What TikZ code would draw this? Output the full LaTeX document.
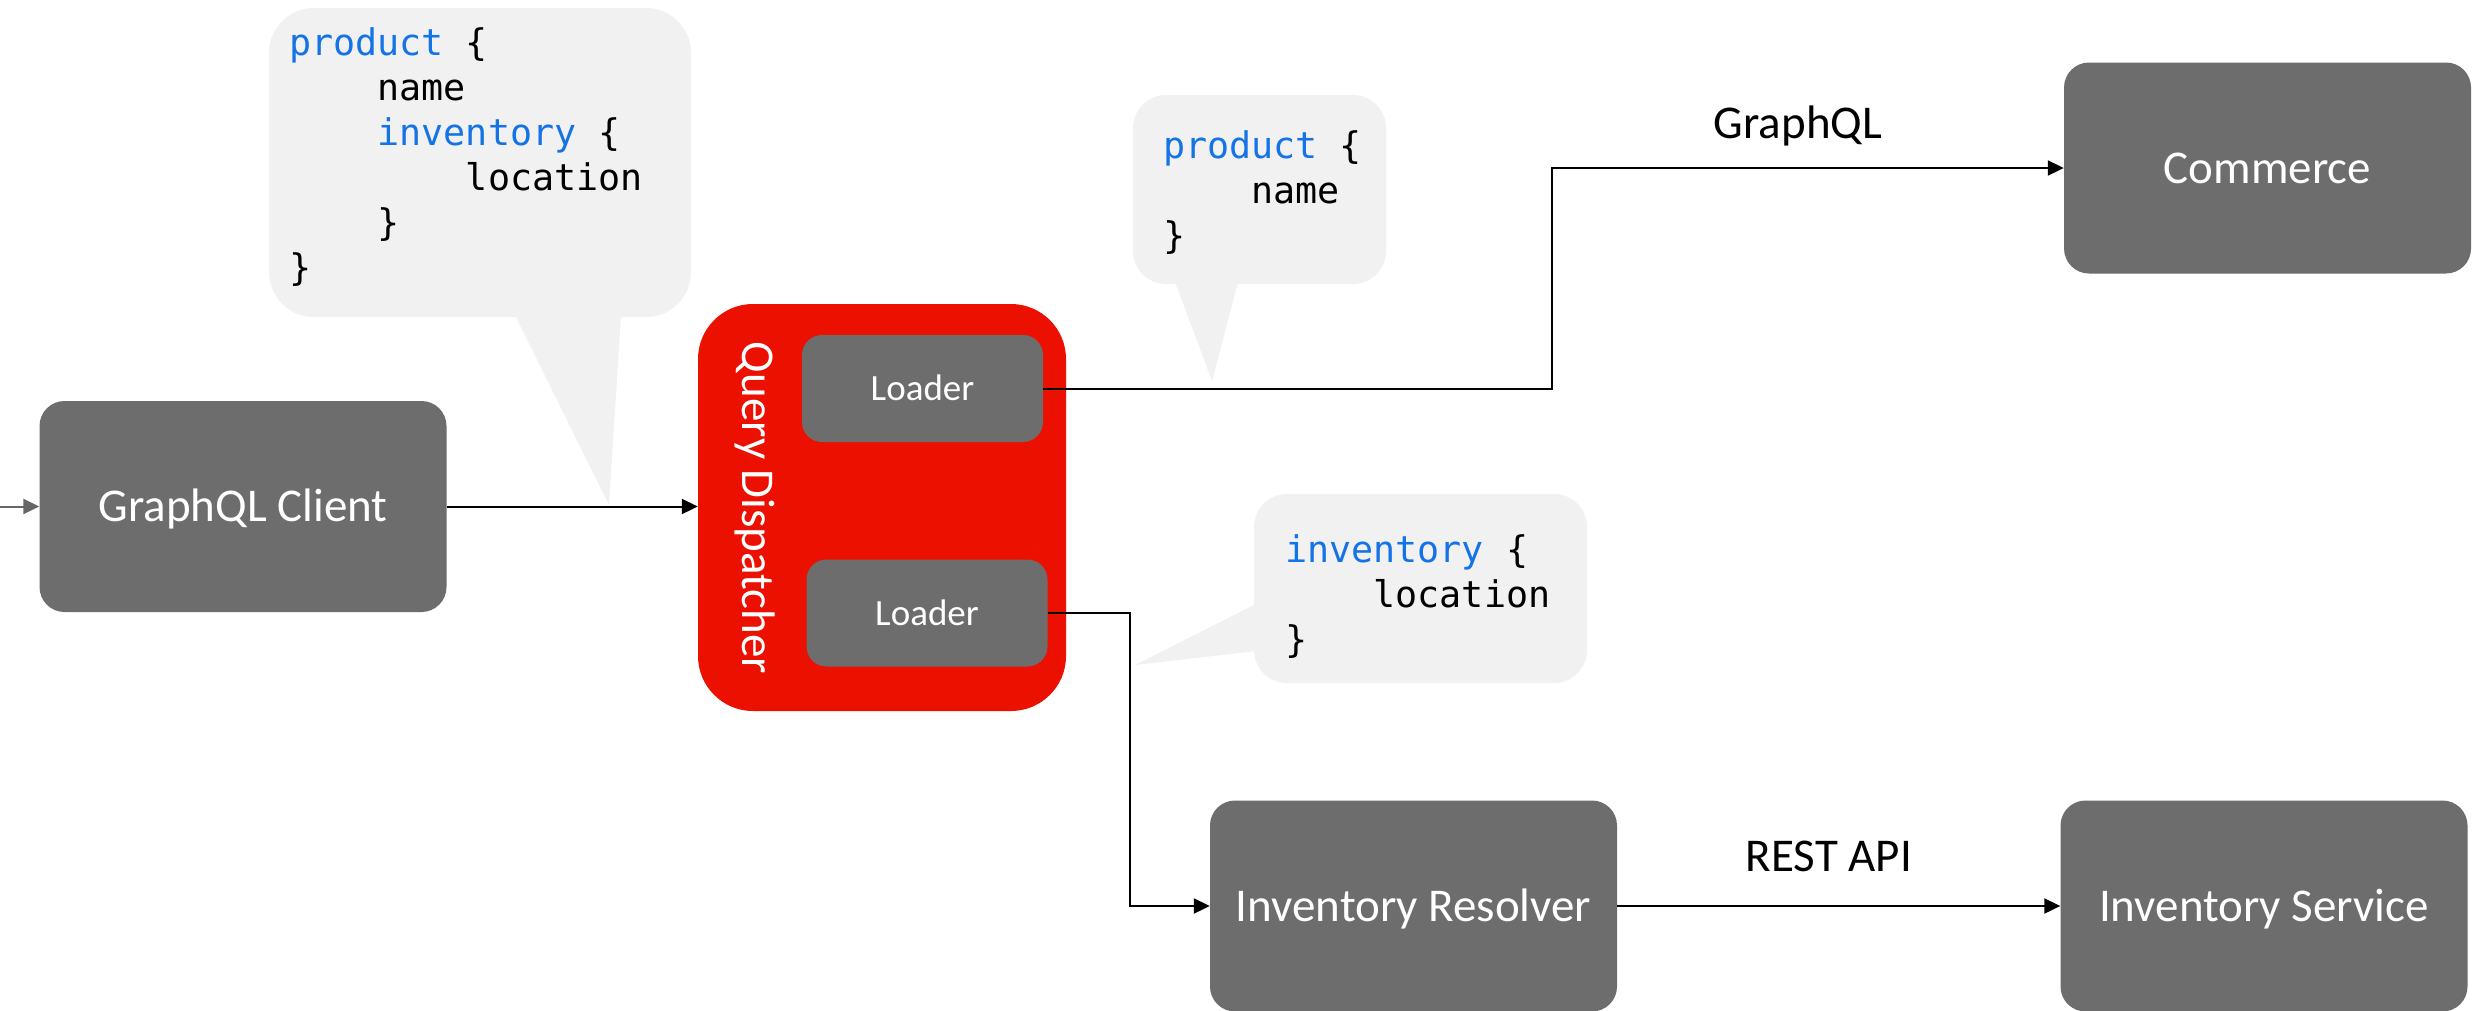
\documentclass[tikz,border=0pt]{standalone}
\usepackage{fontspec}
\usetikzlibrary{arrows.meta}
\newfontfamily\lblfont{Carlito}
\newfontfamily\codefont{DejaVu Sans Mono}
\definecolor{boxgray}{HTML}{6D6D6D}
\definecolor{dispred}{HTML}{EB1000}
\definecolor{bubblefill}{HTML}{F1F1F1}
\definecolor{codeblue}{HTML}{1473E6}
\newcommand\kw[1]{\textcolor{codeblue}{#1}}
\newcommand\ind{\phantom{xxxx}}
\tikzset{
  box/.style={fill=boxgray, rounded corners=25pt, text=white,
    font=\lblfont\fontsize{47}{56}\selectfont, minimum width=407pt, minimum height=211pt,
    inner sep=0pt, text height=30pt, text depth=0pt},
  loaderbox/.style={fill=boxgray, rounded corners=20pt, text=white,
    font=\lblfont\fontsize{37}{44}\selectfont, minimum width=241pt, minimum height=107pt,
    inner sep=0pt, text height=24pt, text depth=0pt},
  dispbox/.style={fill=dispred, rounded corners=55pt, minimum width=368pt, minimum height=407pt, inner sep=0pt},
  displabel/.style={text=white, font=\lblfont\fontsize{47}{56}\selectfont, inner sep=0pt, text height=30pt, text depth=0pt, rotate=-90},
  edgelabel/.style={text=black, font=\lblfont\fontsize{47}{56}\selectfont, inner sep=0pt, anchor=base},
  bubble/.style={fill=bubblefill},
  codetext/.style={font=\codefont\fontsize{36.7}{45}\selectfont, inner sep=0pt, anchor=base west, text=black},
  conn/.style={line width=2pt, draw=black, -{Triangle[length=16pt,width=15pt]}},
}
\begin{document}
\begin{tikzpicture}[x=1pt,y=-1pt]
\useasboundingbox[fill=white] (0,0) rectangle (2478,1010);

% speech bubbles
\fill[bubble, rounded corners=45pt] (269,8) rectangle (691,317);
\fill[bubble] (515,315) -- (621,315) -- (609,505) -- cycle;
\fill[bubble, rounded corners=33pt] (1133,95) rectangle (1386,284);
\fill[bubble] (1175,282) -- (1238,282) -- (1212,381) -- cycle;
\fill[bubble, rounded corners=33pt] (1254,494) rectangle (1587,683);
\fill[bubble] (1256,604) -- (1256,651) -- (1135,665) -- cycle;

\node[codetext] (q1) at (289,55) {\vtop{\baselineskip=45pt
  \hbox{\kw{product} \{}
  \hbox{\ind name}
  \hbox{\ind\kw{inventory} \{}
  \hbox{\ind\ind location}
  \hbox{\ind\}}
  \hbox{\}}}};
\node[codetext] (q2) at (1163,158) {\vtop{\baselineskip=45pt
  \hbox{\kw{product} \{}
  \hbox{\ind name}
  \hbox{\}}}};
\node[codetext] (q3) at (1285,562) {\vtop{\baselineskip=45pt
  \hbox{\kw{inventory} \{}
  \hbox{\ind location}
  \hbox{\}}}};

% boxes
\node[box] (client) at (243,506.5) {GraphQL Client};
\node[box] (commerce) at (2267.5,168) {Commerce};
\node[box] (resolver) at (1413.5,906) {Inventory Resolver};
\node[box] (service) at (2264,906) {Inventory Service};
\node[dispbox] (disp) at (882,507.5) {};
\node[displabel] (displbl) at (757.5,508) {Query Dispatcher};
\node[loaderbox] (loader1) at (922.5,388.5) {Loader};
\node[loaderbox] (loader2) at (927,613) {Loader};

% connectors
\coordinate (entry) at (0,506.5);
\draw[conn, draw=black!60] (entry) -- (client.west);
\draw[conn] (client.east) -- (client.east -| disp.west);
\draw[conn] (loader1.east) -- ++(509,0) |- (commerce.west);
\draw[conn] (loader2.east) -- ++(82,0) |- (resolver.west);
\draw[conn] (resolver.east) -- (service.west);

% edge labels
\node[edgelabel] (lblgql) at (1798,138) {GraphQL};
\node[edgelabel] (lblrest) at (1829,871) {REST API};
\end{tikzpicture}
\end{document}
